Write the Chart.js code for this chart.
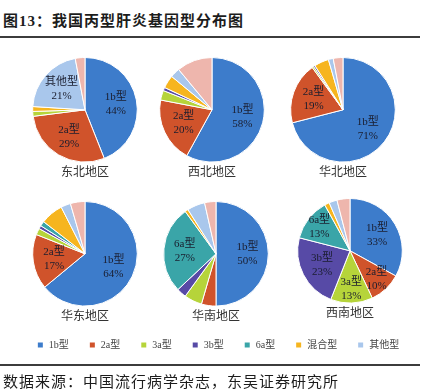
<!DOCTYPE html>
<html>
<head>
<meta charset="utf-8">
<script src="https://cdn.jsdelivr.net/npm/chart.js@4/dist/chart.umd.min.js"></script>
<style>
  body { margin: 0; background: #fff; width: 427px; height: 390px; position: relative; overflow: hidden;
         font-family: 'Liberation Serif', 'Noto Sans CJK SC', serif; }
  #title { position: absolute; left: 3px; top: 9px; font-size: 15px; font-weight: bold; letter-spacing: 1px; color: #1c1c1c; }
  .rule { position: absolute; left: 0; width: 420px; background: #3c3c3c; }
  .pie { position: absolute; }
  #legendBox { position: absolute; left: 9px; top: 320px; }
  #source { position: absolute; left: 3px; top: 370px; font-size: 15px; letter-spacing: 1px; color: #1c1c1c; }
</style>
</head>
<body>
<canvas id="legendBox" width="418" height="60"></canvas>
<div id="title">图13：我国丙型肝炎基因型分布图</div>
<div class="rule" style="top:36px;height:2px"></div>
<canvas class="pie" id="pie0" width="120" height="125" style="left:25px;top:57px"></canvas>
<canvas class="pie" id="pie1" width="120" height="125" style="left:152px;top:57px"></canvas>
<canvas class="pie" id="pie2" width="120" height="125" style="left:283px;top:57px"></canvas>
<canvas class="pie" id="pie3" width="120" height="125" style="left:25px;top:201px"></canvas>
<canvas class="pie" id="pie4" width="120" height="125" style="left:156px;top:201px"></canvas>
<canvas class="pie" id="pie5" width="120" height="125" style="left:290px;top:198px"></canvas>
<div class="rule" style="top:364px;height:2px"></div>
<div id="source">数据来源：中国流行病学杂志，东吴证券研究所</div>

<script>
// genotype categories (last one is the unlabeled pink slice, not in the legend)
const types = ['1b型', '2a型', '3a型', '3b型', '6a型', '混合型', '其他型', '未分型'];
const regions = ['东北地区', '西北地区', '华北地区', '华东地区', '华南地区', '西南地区'];

// shares in %, same order as types
const northeast = [44, 29, 1.5, 0, 0, 1.5, 21, 3];
const northwest = [58, 20, 3, 1, 0, 4, 3, 11];
const north     = [71, 19, 0.5, 0.5, 0, 4.5, 1.5, 3];
const east      = [64, 17, 2, 1, 1.5, 7, 3, 4.5];
const south     = [50, 4.5, 5.5, 3, 27, 1, 5.5, 3.5];
const southwest = [33, 10, 13, 23, 13, 1.5, 2.5, 4];

// which slices carry a text label in each pie
const labeled = [[0, 1, 6], [0, 1], [0, 1], [0, 1], [0, 4], [0, 1, 2, 3, 4]];

const colors = ['#3d7ccb', '#d0532b', '#b6d43a', '#574aa6', '#3aa5a8', '#f6b51f', '#a9c7ec', '#eeb6ad'];
const fontFam = "'Liberation Serif', 'Noto Sans CJK SC', serif";

const sliceLabels = {
    id: 'sliceLabels',
    afterDatasetsDraw(chart, args, opts) {
        const ctx = chart.ctx;
        const meta = chart.getDatasetMeta(0);
        const values = chart.data.datasets[0].data;
        ctx.save();
        ctx.font = '11px ' + fontFam;
        ctx.fillStyle = '#1a1d2e';
        ctx.textAlign = 'center';
        ctx.textBaseline = 'middle';
        meta.data.forEach((arc, i) => {
            if (!opts.show.includes(i)) return;
            const p = arc.getProps(['x', 'y', 'startAngle', 'endAngle', 'outerRadius'], true);
            const mid = (p.startAngle + p.endAngle) / 2;
            const f = values[i] < 15 ? 0.74 : 0.6;
            const x = p.x + Math.cos(mid) * p.outerRadius * f;
            const y = p.y + Math.sin(mid) * p.outerRadius * f;
            ctx.fillText(chart.data.labels[i], x, y - 7);
            ctx.fillText(Math.round(values[i]) + '%', x, y + 7);
        });
        ctx.restore();
    }
};

const allData = [northeast, northwest, north, east, south, southwest];

allData.forEach((vals, k) => {
    new Chart(document.getElementById('pie' + k), {
        type: 'pie',
        data: {
            labels: types,
            datasets: [{
                data: vals,
                backgroundColor: colors,
                borderColor: '#ffffff',
                borderWidth: 1
            }]
        },
        options: {
            responsive: false,
            animation: false,
            layout: { padding: 0 },
            plugins: {
                legend: { display: false },
                tooltip: { enabled: false },
                title: {
                    display: true,
                    position: 'bottom',
                    text: regions[k],
                    color: '#333',
                    font: { family: fontFam, size: 12, weight: 'normal' },
                    padding: { top: 3, bottom: 2 }
                },
                sliceLabels: { show: labeled[k] }
            }
        },
        plugins: [sliceLabels]
    });
});

// shared legend (the pie itself has zero values so only the legend shows)
new Chart(document.getElementById('legendBox'), {
    type: 'pie',
    data: {
        labels: types,
        datasets: [{ data: types.map(() => 0), backgroundColor: colors }]
    },
    options: {
        responsive: false,
        animation: false,
        layout: { padding: 0 },
        plugins: {
            tooltip: { enabled: false },
            legend: {
                position: 'top',
                labels: {
                    boxWidth: 7,
                    boxHeight: 7,
                    padding: 20,
                    color: '#444',
                    font: { family: fontFam, size: 10 },
                    filter: item => item.index < 7
                }
            }
        }
    }
});
</script>
</body>
</html>
